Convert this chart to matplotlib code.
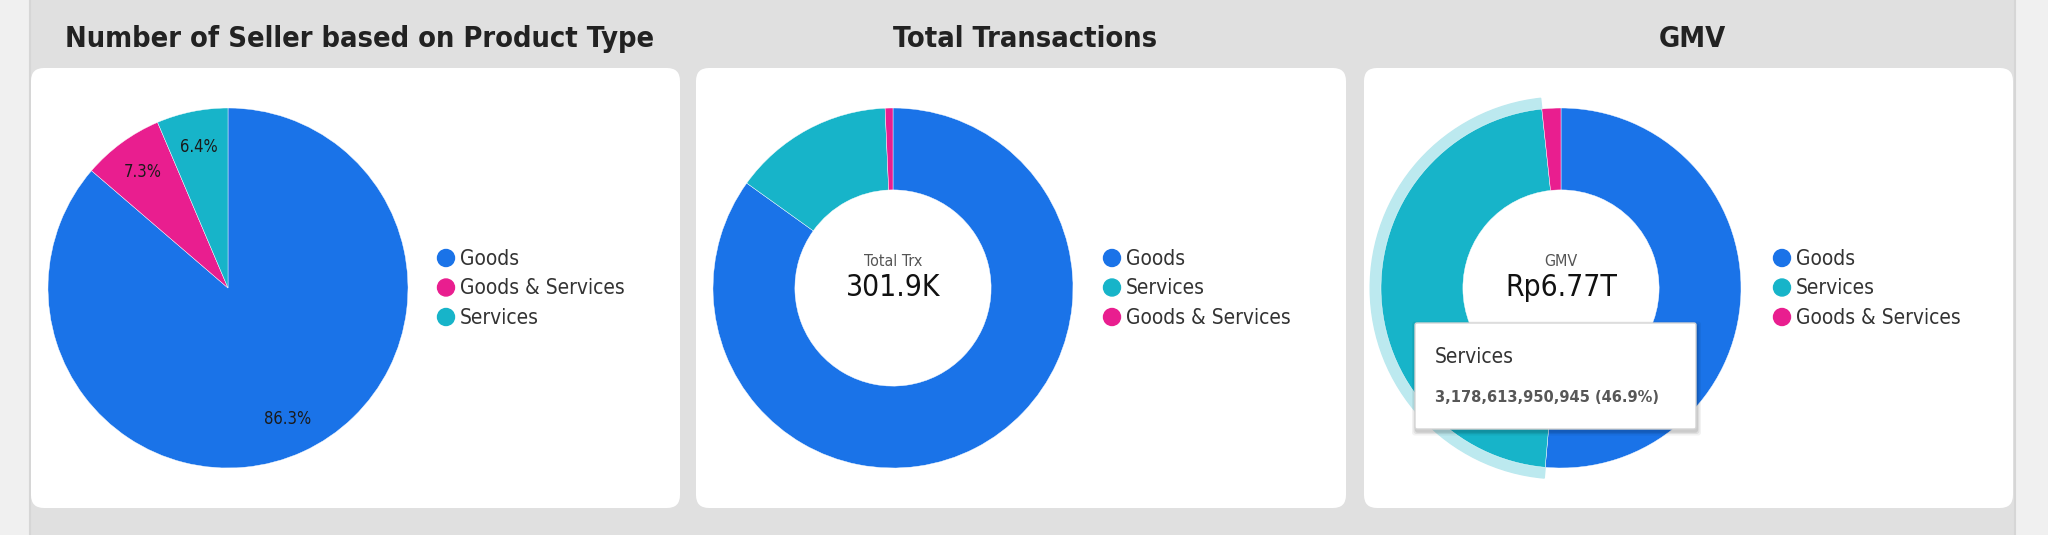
import matplotlib
matplotlib.use("Agg")
import matplotlib.pyplot as plt
from matplotlib.patches import FancyBboxPatch, Circle, Rectangle, Wedge

# ---- data ----
seller_labels = ["Goods", "Goods & Services", "Services"]
seller_pct = [86.3, 7.3, 6.4]

trx_labels = ["Goods", "Services", "Goods & Services"]
trx_share = [84.9, 14.4, 0.7]
trx_total = "301.9K"

gmv_labels = ["Goods", "Services", "Goods & Services"]
gmv_share = [51.4, 46.9, 1.7]
gmv_total = "Rp6.77T"
gmv_hover_label = "Services"
gmv_hover_value = "3,178,613,950,945 (46.9%)"

titles = ["Number of Seller based on Product Type", "Total Transactions", "GMV"]

colors = {"Goods": "#1a73e8", "Services": "#17b4c9", "Goods & Services": "#e91e8f"}

W, H = 2048, 535
FONT = "DejaVu Sans"
STRETCH = "condensed"

fig = plt.figure(figsize=(W / 100, H / 100), dpi=100)

# background layer in pixel coordinates (y down)
bg = fig.add_axes([0, 0, 1, 1])
bg.set_xlim(0, W)
bg.set_ylim(H, 0)
bg.set_axis_off()
bg.add_patch(Rectangle((0, 0), W, H, color="#f0f0f0", zorder=0))
bg.add_patch(Rectangle((30, 0), 1984, H, color="#e0e0e0", zorder=1))
bg.plot([29.5, 29.5], [0, H], color="#d6d6d6", lw=1.5, zorder=2)
bg.plot([2014.5, 2014.5], [0, H], color="#d6d6d6", lw=1.5, zorder=2)

cards = [(31, 680), (696, 1346), (1364, 2013)]
card_top, card_bot = 68, 508
for (x0, x1), title in zip(cards, titles):
    bg.add_patch(FancyBboxPatch((x0, card_top), x1 - x0, card_bot - card_top,
                                boxstyle="round,pad=0,rounding_size=13",
                                fc="white", ec="none", zorder=3))
    bg.text((x0 + x1) / 2 + 4, 39, title, ha="center", va="center",
            fontsize=20.8, fontweight="bold", color="#222222",
            family=FONT, fontstretch=STRETCH, zorder=4)

R = 180
PAD = 1.12


def pie_axes(cx, cy):
    side = 2 * R * PAD
    ax = fig.add_axes([(cx - side / 2) / W, (H - cy - side / 2) / H, side / W, side / H])
    ax.set_axis_off()
    return ax


def legend(x, labels):
    for i, lab in enumerate(labels):
        y = 258 + i * 29.5
        bg.add_patch(Circle((x, y), 8.5, color=colors[lab], zorder=5))
        bg.text(x + 14, y + 1, lab, ha="left", va="center", fontsize=15,
                color="#333333", family=FONT, fontstretch=STRETCH, zorder=5)


# ---- panel 1: pie ----
ax1 = pie_axes(228, 288)
ax1.pie(seller_pct, colors=[colors[l] for l in seller_labels], startangle=90,
        counterclock=False, autopct="%.1f%%", pctdistance=0.8,
        wedgeprops=dict(edgecolor="white", linewidth=0.3),
        textprops=dict(fontsize=12, color="#1a1a1a", family=FONT, fontstretch=STRETCH))
ax1.set_xlim(-PAD, PAD)
ax1.set_ylim(-PAD, PAD)
legend(446, seller_labels)

# ---- panel 2: donut ----
ax2 = pie_axes(893, 288)
ax2.pie(trx_share, colors=[colors[l] for l in trx_labels], startangle=90,
        counterclock=False, wedgeprops=dict(width=0.455, edgecolor="white", linewidth=0.3))
ax2.set_xlim(-PAD, PAD)
ax2.set_ylim(-PAD, PAD)
ax2.text(0, 0.15, "Total Trx", ha="center", va="center", fontsize=11.5,
         color="#555555", family=FONT, fontstretch=STRETCH)
ax2.text(0, 0.0, trx_total, ha="center", va="center", fontsize=21.5,
         color="#111111", family=FONT, fontstretch=STRETCH)
legend(1112, trx_labels)

# ---- panel 3: donut with hovered slice ----
ax3 = pie_axes(1561, 288)
wedges, _ = ax3.pie(gmv_share, colors=[colors[l] for l in gmv_labels], startangle=90,
                    counterclock=False,
                    wedgeprops=dict(width=0.455, edgecolor="white", linewidth=0.3))
hw = wedges[gmv_labels.index(gmv_hover_label)]
ax3.add_patch(Wedge((0, 0), 1.06, hw.theta1, hw.theta2, width=0.06,
                    color="#bce9ef", zorder=0))
ax3.set_xlim(-PAD, PAD)
ax3.set_ylim(-PAD, PAD)
ax3.text(0, 0.15, "GMV", ha="center", va="center", fontsize=11.5,
         color="#555555", family=FONT, fontstretch=STRETCH)
ax3.text(0, 0.0, gmv_total, ha="center", va="center", fontsize=21.5,
         color="#111111", family=FONT, fontstretch=STRETCH)
legend(1782, gmv_labels)

# tooltip on top of everything
top = fig.add_axes([0, 0, 1, 1])
top.set_xlim(0, W)
top.set_ylim(H, 0)
top.set_axis_off()
tx0, ty0, tx1, ty1 = 1415, 323, 1696, 429
for off, a in [(4, 0.05), (2.5, 0.07), (1.2, 0.09)]:
    top.add_patch(FancyBboxPatch((tx0 - off + 1, ty0 - off + 2.5), tx1 - tx0 + 2 * off, ty1 - ty0 + 2 * off,
                                 boxstyle="round,pad=0,rounding_size=3",
                                 fc="black", ec="none", alpha=a))
top.add_patch(FancyBboxPatch((tx0, ty0), tx1 - tx0, ty1 - ty0,
                             boxstyle="round,pad=0,rounding_size=2",
                             fc="white", ec="#d4d4d4", lw=1))
top.text(tx0 + 20, 357, gmv_hover_label, ha="left", va="center", fontsize=15,
         color="#333333", family=FONT, fontstretch=STRETCH)
top.text(tx0 + 20, 398, gmv_hover_value, ha="left", va="center", fontsize=11.7,
         fontweight="bold", color="#575757", family=FONT, fontstretch=STRETCH)

fig.savefig("out.png", dpi=100)
